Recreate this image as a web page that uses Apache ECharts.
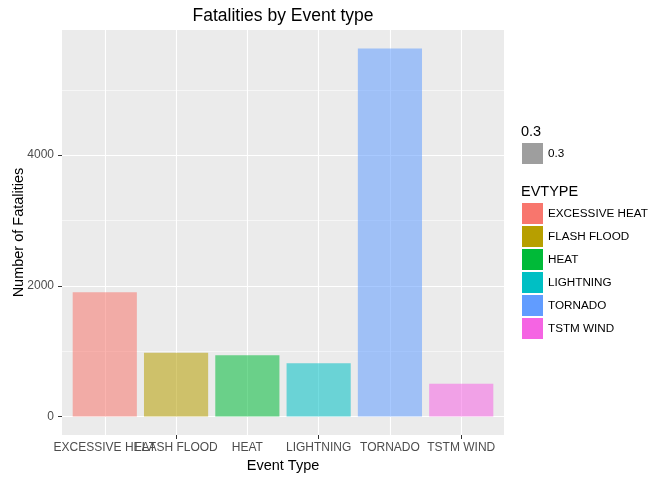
<!DOCTYPE html>
<html>
<head>
<meta charset="UTF-8">
<title>Fatalities by Event type</title>
<script src="https://cdn.jsdelivr.net/npm/echarts@6/dist/echarts.min.js"></script>
<style>
body { margin: 0; background: #fff; }
#main { width: 672px; height: 480px; }
</style>
</head>
<body>
<div id="main"></div>
<script>
// data
var eventTypes = ['EXCESSIVE HEAT', 'FLASH FLOOD', 'HEAT', 'LIGHTNING', 'TORNADO', 'TSTM WIND'];
var fatalities = [1903, 978, 937, 816, 5633, 504];
var typeColors = ['#F8766D', '#B79F00', '#00BA38', '#00BFC4', '#619CFF', '#F564E3'];
var yMajorTicks = [0, 2000, 4000];
var yMinorTicks = [1000, 3000, 5000];

var chart = echarts.init(document.getElementById('main'));
var FONT = '"Liberation Sans", Arial, sans-serif';

// ggplot style expansion of the value range (5% each side)
var yMax = Math.max.apply(null, fatalities);
var yPad = yMax * 0.05;
var xPositions = eventTypes.map(function (d, i) { return i + 1; });
// labels overlap in the original, so odd and even ones go on two stacked axes
var xOdd = xPositions.filter(function (v) { return v % 2 === 1; });
var xEven = xPositions.filter(function (v) { return v % 2 === 0; });

// gridlines drawn with markLine so they sit under the translucent bars
var gridLines = [];
xPositions.forEach(function (v) {
	gridLines.push({ xAxis: v, lineStyle: { color: '#fff', width: 1.1, type: 'solid' } });
});
yMajorTicks.forEach(function (v) {
	gridLines.push({ yAxis: v, lineStyle: { color: '#fff', width: 1.1, type: 'solid' } });
});
yMinorTicks.forEach(function (v) {
	gridLines.push({ yAxis: v, lineStyle: { color: '#fff', width: 0.55, type: 'solid' } });
});

var series = eventTypes.map(function (name, i) {
	var s = {
		name: name,
		type: 'bar',
		barWidth: '90%',
		barGap: '-100%',
		data: [[i + 1, fatalities[i]]],
		itemStyle: { color: typeColors[i], opacity: 0.55 },
		animation: false,
		z: 2
	};
	if (i === 0) {
		s.markLine = {
			silent: true,
			symbol: 'none',
			z: 1,
			label: { show: false },
			animation: false,
			data: gridLines
		};
	}
	return s;
});
// dummy series for the "0.3" alpha legend
series.push({ name: '0.3', type: 'bar', barWidth: '90%', barGap: '-100%', data: [], itemStyle: { color: '#9E9E9E' } });

function makeXAxis(vals, withName) {
	return {
		type: 'value',
		position: 'bottom',
		offset: 0,
		min: 0.4,
		max: eventTypes.length + 0.6,
		name: withName ? 'Event Type' : '',
		nameLocation: 'middle',
		nameGap: 23,
		nameMoveOverlap: false,
		nameTextStyle: { fontSize: 14.5, color: '#000', fontFamily: FONT },
		axisLine: { show: false },
		axisTick: { show: true, length: 4, customValues: vals, lineStyle: { color: '#333' } },
		axisLabel: {
			customValues: vals,
			margin: 7,
			hideOverlap: false,
			fontSize: 12, color: '#4D4D4D', fontFamily: FONT,
			formatter: function (v) { return eventTypes[Math.round(v) - 1] || ''; }
		},
		splitLine: { show: false }
	};
}

var option = {
	animation: false,
	textStyle: { fontFamily: FONT },
	grid: {
		left: 62, right: 168, top: 30, bottom: 45,
		outerBoundsMode: 'none',
		containLabel: false,
		show: true, backgroundColor: '#EBEBEB', borderWidth: 0
	},
	graphic: [
		{ type: 'text', x: 283, y: 16, style: { text: 'Fatalities by Event type', font: '17.5px ' + FONT, fill: '#000', textAlign: 'center', textVerticalAlign: 'middle' } },
		{ type: 'text', x: 521, y: 132, style: { text: '0.3', font: '14.5px ' + FONT, fill: '#000', textAlign: 'left', textVerticalAlign: 'middle' } },
		{ type: 'text', x: 521, y: 192, style: { text: 'EVTYPE', font: '14.5px ' + FONT, fill: '#000', textAlign: 'left', textVerticalAlign: 'middle' } }
	],
	legend: [
		{
			data: ['0.3'],
			orient: 'vertical', left: 522, top: 143, padding: 0,
			itemWidth: 21, itemHeight: 21, itemGap: 2, icon: 'rect',
			selectedMode: false,
			textStyle: { fontSize: 11.7, color: '#000', fontFamily: FONT }
		},
		{
			data: eventTypes.map(function (n, i) {
				return { name: n, itemStyle: { color: typeColors[i], opacity: 1 } };
			}),
			orient: 'vertical', left: 522, top: 203, padding: 0,
			itemWidth: 21, itemHeight: 21, itemGap: 2, icon: 'rect',
			selectedMode: false,
			textStyle: { fontSize: 11.7, color: '#000', fontFamily: FONT }
		}
	],
	xAxis: [makeXAxis(xOdd, true), makeXAxis(xEven, false)],
	yAxis: {
		type: 'value',
		min: -yPad,
		max: yMax + yPad,
		name: 'Number of Fatalities',
		nameLocation: 'middle',
		nameGap: 36,
		nameMoveOverlap: false,
		nameTextStyle: { fontSize: 14.5, color: '#000', fontFamily: FONT },
		axisLine: { show: false },
		axisTick: { show: true, length: 4, customValues: yMajorTicks, lineStyle: { color: '#333' } },
		axisLabel: {
			customValues: yMajorTicks,
			margin: 8,
			fontSize: 12, color: '#4D4D4D', fontFamily: FONT,
			formatter: function (v) { return String(v); }
		},
		splitLine: { show: false }
	},
	series: series
};

chart.setOption(option);
</script>
</body>
</html>
